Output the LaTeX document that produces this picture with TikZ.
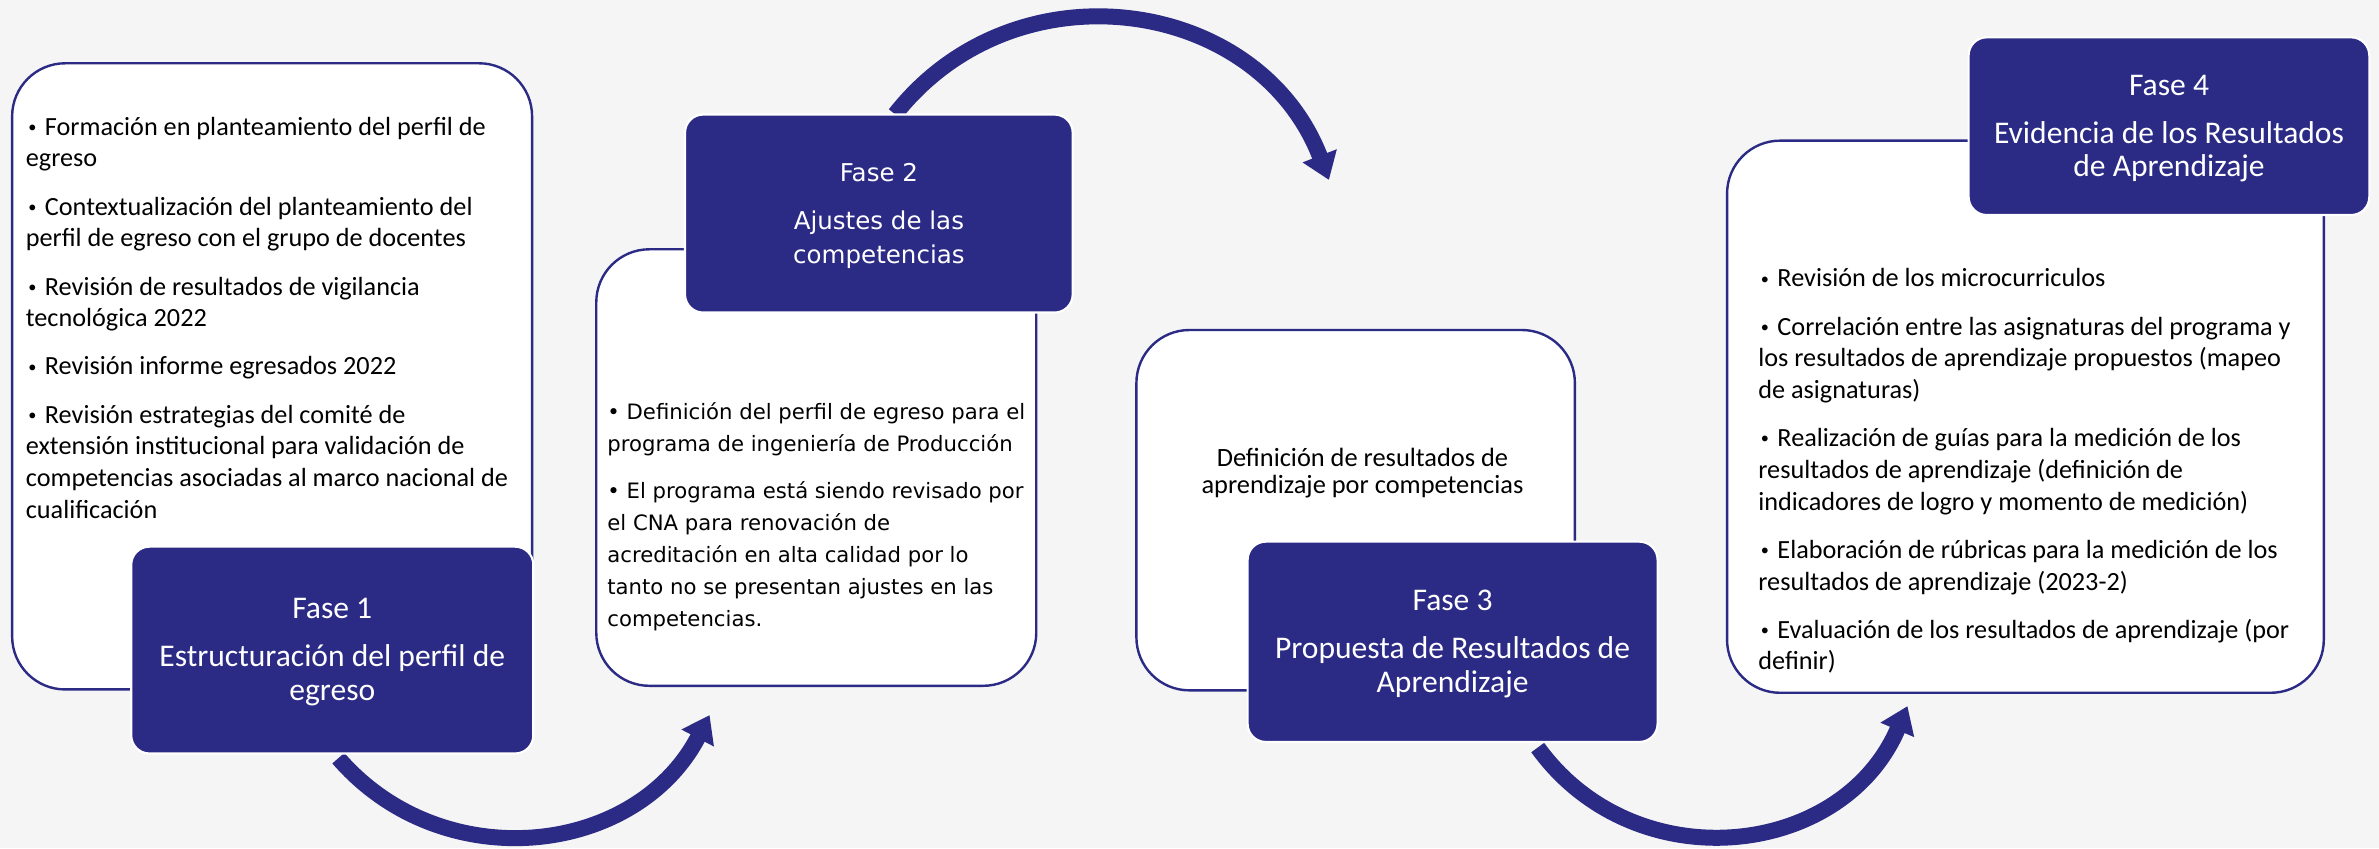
\documentclass[tikz,border=0pt]{standalone}
\usepackage{fontspec}
\usepackage{graphicx}
\setmainfont{Carlito}
\newfontfamily\verd{DejaVu Sans}
\usetikzlibrary{arrows.meta,fit,calc}
\definecolor{navy}{RGB}{43,42,133}
\definecolor{bggray}{RGB}{245,245,245}
\pgfdeclarelayer{bg}
\pgfdeclarelayer{arrowlayer}
\pgfsetlayers{bg,arrowlayer,main}
\newcommand\txtA{\fontsize{9.84pt}{11.89pt}\selectfont\setlength{\parskip}{6.2pt}}
\newcommand\txtB{\verd\fontsize{7.95pt}{11.95pt}\selectfont\setlength{\parskip}{5.7pt}}
\newcommand\txtC{\fontsize{9.9pt}{10.07pt}\selectfont}
\newcommand\ttlA{\fontsize{11.84pt}{12.6pt}\selectfont\setlength{\parskip}{5.5pt}}
\newcommand\ttlB{\verd\fontsize{9.2pt}{12.86pt}\selectfont\setlength{\parskip}{5.1pt}}
\newcommand\bul{\makebox[0.5em][c]{\raisebox{0.22ex}{\scalebox{0.62}{•}}}}
\begin{document}
\begin{tikzpicture}[x=0.02cm,y=-0.02cm,
  whitebox/.style={draw=navy, line width=0.9pt, fill=white, rounded corners=19.9pt, inner sep=0pt},
  phasebox/.style={draw=white, line width=0.8pt, fill=navy, rounded corners=6.8pt, inner sep=0pt},
  flow/.style={draw=navy, line width=6pt, -{Triangle[width=13.1pt,length=9.7pt]}},
  bodytext/.style={inner sep=0pt, anchor=base west, text=black},
  titletext/.style={inner sep=0pt, anchor=base, text=white}]
\useasboundingbox (0,0) rectangle (1568,559);
\begin{pgfonlayer}{bg}
\fill[bggray] (0,0) rectangle (1568,559);
\end{pgfonlayer}

% white content boxes
\node[whitebox, fit={(8,41.7) (350.7,454.4)}] (b1) {};
\node[whitebox, fit={(393,164.3) (683,452)}] (b2) {};
\node[whitebox, fit={(749,217.5) (1038,455)}] (b3) {};
\node[whitebox, fit={(1138.3,92.7) (1531.6,456.6)}] (b4) {};

% phase boxes
\node[phasebox, fit={(86.5,360.3) (351.5,496.6)}] (f1) {};
\node[phasebox, fit={(451.5,75.5) (707,206)}] (f2) {};
\node[phasebox, fit={(822.3,357) (1092.5,489)}] (f3) {};
\node[phasebox, fit={(1297.5,24.6) (1561.6,141.7)}] (f4) {};

% body texts
\node[bodytext] (t1) at (16.7,89.1) {\parbox[t]{9cm}{\raggedright\txtA
\bul{} Formación en planteamiento del perfil de\\egreso\par
\bul{} Contextualización del planteamiento del\\perfil de egreso con el grupo de docentes\par
\bul{} Revisión de resultados de vigilancia\\tecnológica 2022\par
\bul{} Revisión informe egresados 2022\par
\bul{} Revisión estrategias del comité de\\extensión institucional para validación de\\competencias asociadas al marco nacional de\\cualificación}};

\node[bodytext] (t2) at (400,276.6) {\parbox[t]{9cm}{\raggedright\txtB
• Definición del perfil de egreso para el\\programa de ingeniería de Producción\par
• El programa está siendo revisado por\\el CNA para renovación de\\acreditación en alta calidad por lo\\tanto no se presentan ajustes en las\\competencias.}};

\node[inner sep=0pt, anchor=base, text=black] (t3) at (898,307.6) {\parbox[t]{8cm}{\centering\txtC
Definición de resultados de\\aprendizaje por competencias}};

\node[bodytext] (t4) at (1158.6,189.1) {\parbox[t]{10cm}{\raggedright\txtA
\bul{} Revisión de los microcurriculos\par
\bul{} Correlación entre las asignaturas del programa y\\los resultados de aprendizaje propuestos (mapeo\\de asignaturas)\par
\bul{} Realización de guías para la medición de los\\resultados de aprendizaje (definición de\\indicadores de logro y momento de medición)\par
\bul{} Elaboración de rúbricas para la medición de los\\resultados de aprendizaje (2023-2)\par
\bul{} Evaluación de los resultados de aprendizaje (por\\definir)}};

% phase titles
\node[titletext] (h1) at (219,407.7) {\parbox[t]{8cm}{\centering\ttlA
Fase 1\par Estructuración del perfil de\\egreso}};
\node[titletext] (h2) at (579.3,119.7) {\parbox[t]{8cm}{\centering\ttlB
Fase 2\par Ajustes de las\\competencias}};
\node[titletext] (h3) at (957.4,402.2) {\parbox[t]{8cm}{\centering\ttlA
Fase 3\par Propuesta de Resultados de\\Aprendizaje}};
\node[titletext] (h4) at (1429.6,62.7) {\parbox[t]{8cm}{\centering\ttlA
Fase 4\par Evidencia de los Resultados\\de Aprendizaje}};

% curved arrows
\coordinate (a1e) at (467.7,471.3);
\coordinate (a2e) at (875.9,118.6);
\coordinate (a3e) at (1257.2,465.4);
\begin{pgfonlayer}{arrowlayer}
\draw[flow] ($(f1.south)+(4,2.4)$) .. controls (291.5,578.9) and (419,564.5) .. (a1e);
\draw[flow] ($(f2.north)+(10.7,0.5)$) .. controls (669.4,-25.8) and (829.6,-1.9) .. (a2e);
\draw[flow] ($(f3.south)+(56.1,3)$) .. controls (1077.3,581) and (1214.1,566.1) .. (a3e);
\end{pgfonlayer}
\end{tikzpicture}
\end{document}
